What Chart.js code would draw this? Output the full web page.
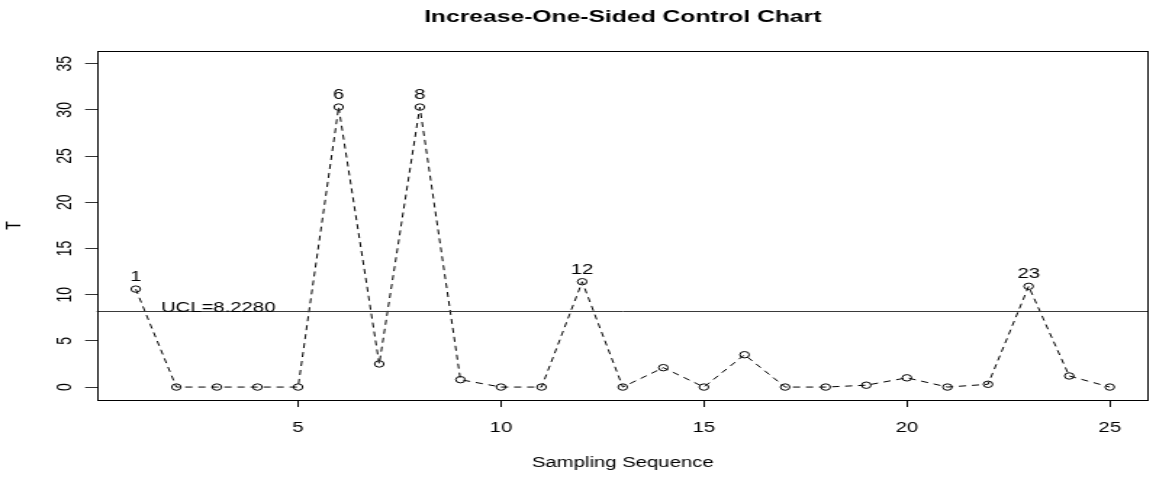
<!DOCTYPE html>
<html><head><meta charset="utf-8">
<script src="https://cdn.jsdelivr.net/npm/chart.js@4.4.1/dist/chart.umd.min.js"></script>
<style>
html,body{margin:0;padding:0;background:#fff;overflow:hidden;}
canvas{display:block;}
</style></head><body>
<canvas id="c" width="797" height="479" style="width:1156px;height:479px;"></canvas>
<script>
// ---- data ----
const samples = [1,2,3,4,5,6,7,8,9,10,11,12,13,14,15,16,17,18,19,20,21,22,23,24,25];
const tValues = [10.6,0,0,0,0,30.3,2.5,30.3,0.8,0,0,11.4,0,2.1,0,3.5,0,0,0.2,1.0,0,0.3,10.9,1.2,0];
const ucl = 8.228;
const uclLabel = 'UCL=8.2280';
const xTicks = [5,10,15,20,25];
const yTicks = [0,5,10,15,20,25,30,35];
const chartTitle = 'Increase-One-Sided Control Chart';
const xTitle = 'Sampling Sequence';
const yTitle = 'T';

const FONT = '"Liberation Sans", Arial, Helvetica, sans-serif';
const xr = samples[samples.length-1] - samples[0];
const yr = yTicks[yTicks.length-1] - yTicks[0];
const xMin = samples[0] - 0.04*xr, xMax = samples[samples.length-1] + 0.04*xr;
const yMin = yTicks[0] - 0.04*yr, yMax = yTicks[yTicks.length-1] + 0.04*yr;
const uclLabelAt = 1.62;

const decor = {
  id: 'decor',
  afterDatasetsDraw(chart) {
    const {ctx, chartArea: a, scales: {x, y}} = chart;
    ctx.save();
    // UCL line
    const yu = y.getPixelForValue(ucl);
    const yl = Math.round(yu) + 0.5;
    ctx.strokeStyle = '#3a3a3a'; ctx.lineWidth = 1; ctx.setLineDash([]);
    ctx.beginPath(); ctx.moveTo(a.left, yl); ctx.lineTo(a.right, yl); ctx.stroke();
    // plot box
    ctx.strokeStyle = '#000';
    const L = Math.round(a.left) + 0.5, T = Math.round(a.top) + 0.5;
    const R = Math.round(a.right) - 0.5, B = Math.round(a.bottom) + 0.5;
    ctx.strokeRect(L, T, R - L, B - T);
    // UCL text
    ctx.fillStyle = '#000';
    ctx.font = '14px ' + FONT;
    ctx.textAlign = 'left'; ctx.textBaseline = 'alphabetic';
    ctx.fillText(uclLabel, x.getPixelForValue(uclLabelAt), yl);
    // labels of out-of-control points
    const meta = chart.getDatasetMeta(0);
    ctx.textAlign = 'center'; ctx.textBaseline = 'middle';
    meta.data.forEach((pt, i) => {
      if (tValues[i] > ucl) ctx.fillText(String(samples[i]), pt.x, pt.y - 12);
    });
    // rotated y tick labels
    y.ticks.forEach(t => {
      const py = y.getPixelForValue(t.value);
      ctx.save();
      ctx.translate(a.left - 22, py);
      ctx.rotate(-Math.PI / 2);
      ctx.textAlign = 'center'; ctx.textBaseline = 'middle';
      ctx.fillText(String(t.value), 0, 0);
      ctx.restore();
    });
    ctx.restore();
  }
};

new Chart(document.getElementById('c'), {
  type: 'line',
  data: {
    datasets: [{
      data: samples.map((s, i) => ({x: s, y: tValues[i]})),
      borderColor: '#000',
      borderWidth: 1,
      borderDash: [5, 4],
      tension: 0,
      fill: false,
      pointRadius: 3.2,
      pointBorderColor: '#000',
      pointBackgroundColor: 'rgba(0,0,0,0)',
      pointBorderWidth: 1
    }]
  },
  options: {
    responsive: false,
    animation: false,
    devicePixelRatio: 1,
    events: [],
    layout: {padding: {left: 0, right: 1.8, top: 0, bottom: 0}},
    plugins: {
      legend: {display: false},
      tooltip: {enabled: false},
      title: {
        display: true, text: chartTitle, fullSize: false, color: '#000',
        font: {family: FONT, size: 17, weight: 'bold'},
        padding: {top: 6.8, bottom: 23.5}
      }
    },
    scales: {
      x: {
        type: 'linear', min: xMin, max: xMax,
        afterBuildTicks: s => { s.ticks = xTicks.map(v => ({value: v})); },
        afterFit: s => { s.height = 79; },
        ticks: {color: '#000', font: {family: FONT, size: 14}, padding: 13, maxRotation: 0, autoSkip: false},
        grid: {drawOnChartArea: false, drawTicks: true, tickLength: 7, color: '#000'},
        border: {display: false},
        title: {display: true, text: xTitle, color: '#000', font: {family: FONT, size: 14}, padding: {top: 0, bottom: 7.6}}
      },
      y: {
        type: 'linear', min: yMin, max: yMax,
        afterBuildTicks: s => { s.ticks = yTicks.map(v => ({value: v})); },
        afterFit: s => { s.width = 66.7; },
        ticks: {display: false},
        grid: {drawOnChartArea: false, drawTicks: true, tickLength: 8, color: '#333'},
        border: {display: false},
        title: {display: true, text: yTitle, color: '#000', font: {family: FONT, size: 14}, padding: {top: 2, bottom: 0}}
      }
    }
  },
  plugins: [decor]
});
</script>
</body></html>
